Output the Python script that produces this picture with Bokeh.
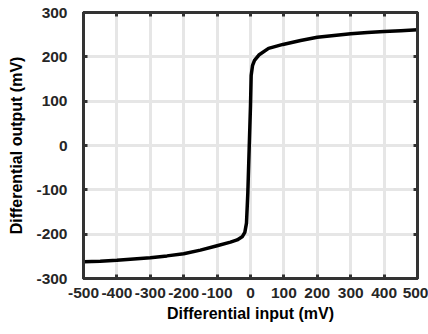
from bokeh.plotting import figure
from bokeh.models import LinearAxis, FixedTicker, Range1d, CustomJSTickFormatter
from bokeh.embed import file_html
from bokeh.resources import INLINE

# Data
x_in = [-500, -450, -400, -350, -300, -250, -200, -150, -100, -60, -40, -25, -17, -12, -8, -4,
        0, 2, 6, 12, 25, 54, 97, 150, 200, 250, 300, 350, 400, 450, 500]
y_out = [-262, -261, -259, -256, -253, -249, -244, -236, -226, -218, -213, -206, -196, -175, -107, -8,
         90, 158, 180, 192, 204, 219, 228, 237, 244, 248, 252, 255, 257, 259, 261]
x_ticks = [-500, -400, -300, -200, -100, 0, 100, 200, 300, 400, 500]
y_ticks = [-300, -200, -100, 0, 100, 200, 300]
x_label = "Differential input (mV)"
y_label = "Differential output (mV)"

FONT = "Liberation Sans"
FRAME = "#333333"

p = figure(width=428, height=334, output_backend="svg", toolbar_location=None,
           x_range=Range1d(-500, 500), y_range=Range1d(-300, 300),
           x_axis_location=None, y_axis_location=None,
           min_border_left=83, min_border_right=11, min_border_top=12, min_border_bottom=56)

p.background_fill_color = "white"
p.border_fill_color = "white"
p.outline_line_color = FRAME
p.outline_line_width = 3

fmt_code = "return tick.toString();"

def style_axis(ax, ticks, show_labels):
    ax.ticker = FixedTicker(ticks=ticks)
    ax.formatter = CustomJSTickFormatter(code=fmt_code)
    ax.axis_line_color = FRAME
    ax.axis_line_width = 3
    ax.major_tick_in = 4
    ax.major_tick_out = 0
    ax.major_tick_line_color = FRAME
    ax.major_tick_line_width = 3
    ax.minor_tick_line_color = None
    ax.major_label_text_font = FONT
    ax.major_label_text_font_style = "bold"
    ax.major_label_text_font_size = "15.5px"
    ax.major_label_text_color = "#262626"
    ax.axis_label_text_font = FONT
    ax.axis_label_text_font_style = "bold"
    ax.axis_label_text_font_size = "16px"
    ax.axis_label_text_color = "black"
    if not show_labels:
        ax.major_label_text_font_size = "0px"
        ax.major_label_text_color = None

xb = LinearAxis(axis_label=x_label)
xt = LinearAxis()
yl = LinearAxis(axis_label=y_label)
yr = LinearAxis()
style_axis(xb, x_ticks, True)
style_axis(xt, x_ticks, False)
style_axis(yl, y_ticks, True)
style_axis(yr, y_ticks, False)
xb.major_label_standoff = 9
xb.axis_label_standoff = 4
yl.major_label_standoff = 16
yl.axis_label_standoff = 8

p.add_layout(xb, "below")
p.add_layout(xt, "above")
p.add_layout(yl, "left")
p.add_layout(yr, "right")

p.xgrid.ticker = FixedTicker(ticks=x_ticks)
p.ygrid.ticker = FixedTicker(ticks=y_ticks)
for g in (p.xgrid, p.ygrid):
    g.grid_line_color = "#e6e6e6"
    g.grid_line_width = 3

p.line(x_in, y_out, line_color="black", line_width=3.5, line_join="round", line_cap="round")

open("out.html", "w").write(file_html(p, INLINE))
